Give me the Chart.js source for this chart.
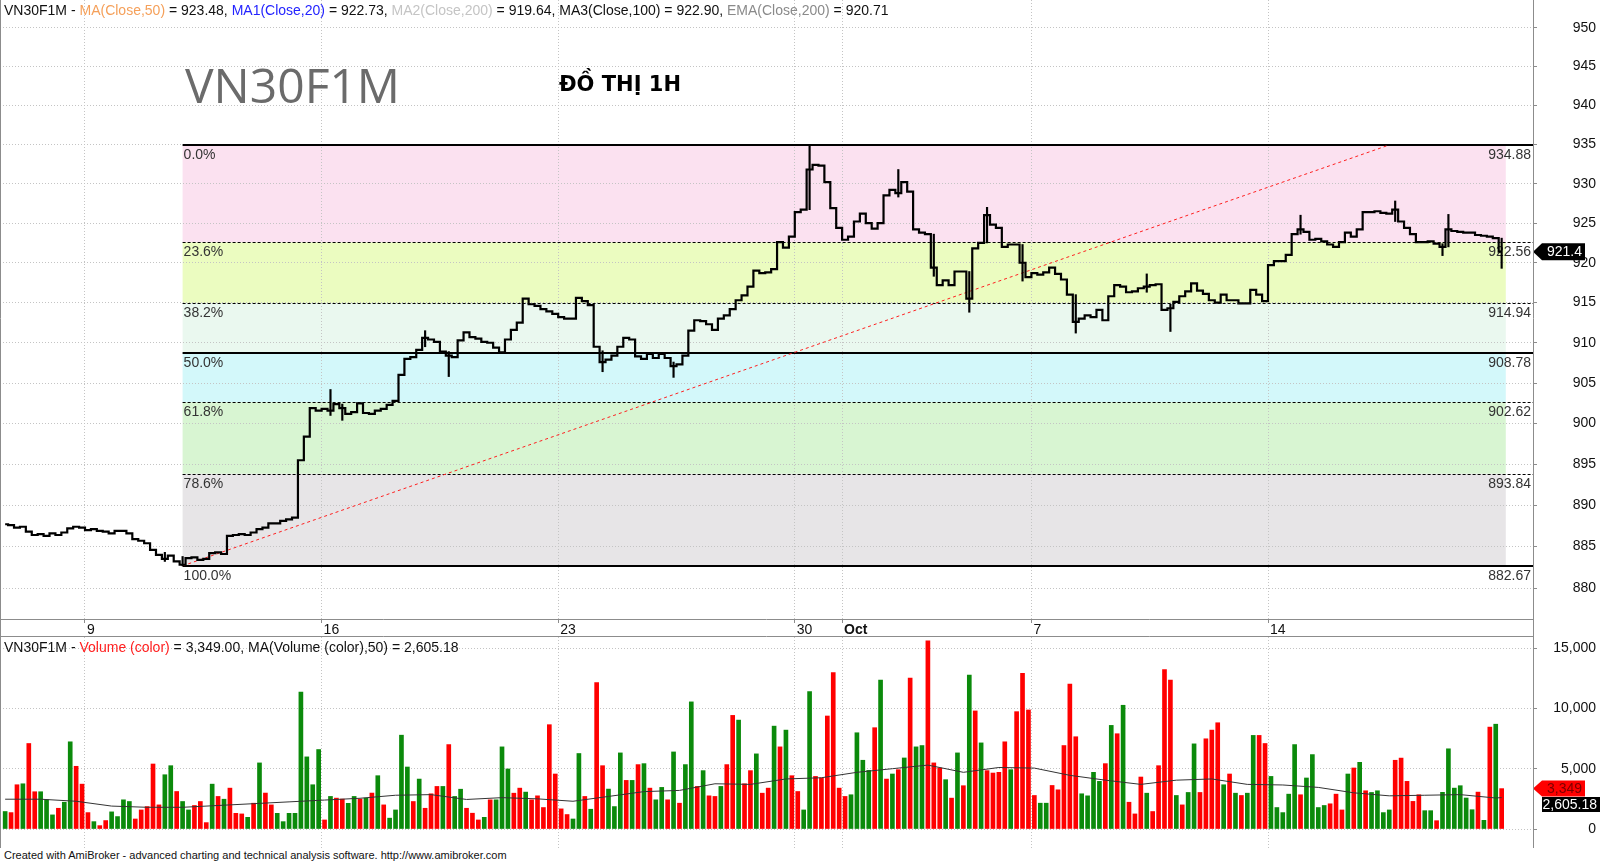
<!DOCTYPE html>
<html>
<head>
<meta charset="utf-8">
<script src="https://cdn.jsdelivr.net/npm/chart.js@4/dist/chart.umd.min.js"></script>
<style>
  body { margin: 0; background: #fff; width: 1600px; height: 863px; overflow: hidden; position: relative; font-family: "Liberation Sans", Arial, sans-serif; }
  canvas { position: absolute; left: 0; }
  #price { top: 0; }
  #vol { top: 637px; }
  .txt { position: absolute; white-space: nowrap; font-size: 14px; line-height: 16px; color: #111; }
  .big { position: absolute; left: 185px; top: 61px; font-family: "Open Sans", sans-serif; font-size: 48px; line-height: 48px; color: #6b6b6b; }
  .sub { position: absolute; left: 559px; top: 74px; font-family: "DejaVu Sans", sans-serif; font-weight: bold; font-size: 21px; line-height: 21px; color: #000; }
  .foot { position: absolute; left: 4px; top: 849px; font-size: 11px; line-height: 13px; color: #111; white-space: nowrap; }
</style>
</head>
<body>
<canvas id="price" width="1600" height="637"></canvas>
<canvas id="vol" width="1600" height="211"></canvas>

<div class="txt" style="left:4px;top:2px">VN30F1M - <span style="color:#f5a05a">MA(Close,50)</span> = 923.48, <span style="color:#2323ff">MA1(Close,20)</span> = 922.73, <span style="color:#c4c4c4">MA2(Close,200)</span> = 919.64, MA3(Close,100) = 922.90, <span style="color:#8a8a8a">EMA(Close,200)</span> = 920.71</div>
<div class="big">VN30F1M</div>
<div class="sub">ĐỒ THỊ 1H</div>
<div class="txt" style="left:4px;top:639px">VN30F1M - <span style="color:#ff2020">Volume (color)</span> = 3,349.00, MA(Volume (color),50) = 2,605.18</div>
<div class="foot">Created with AmiBroker - advanced charting and technical analysis software. http://www.amibroker.com</div>

<script>
// one slot per bar, x axis runs on bar index
const xMin = -0.87;
const xMax = 258.3;

const dayTickIdx = [13.5, 53.5, 93.5, 133.5, 141.5, 173.5, 213.5];
const dayTickLabels = ['9', '16', '23', '30', 'Oct', '7', '14'];

const priceTicks = [880, 885, 890, 895, 900, 905, 910, 915, 920, 925, 930, 935, 940, 945, 950];
const priceMin = 876.28;
const priceMax = 953.64;

const closes = [
  887.7, 887.6, 887.3, 887.4, 886.8, 886.4, 886.5, 886.3, 886.6, 886.4,
  886.7, 887.2, 887.4, 887.3, 887.0, 887.1, 886.9, 886.8, 886.6, 886.9,
  886.9, 886.6, 885.9, 885.7, 885.4, 884.6, 884.0, 883.5, 883.9, 883.2,
  882.8, 883.6, 883.7, 883.4, 883.5, 884.2, 884.3, 884.1, 886.3, 886.4,
  886.5, 886.4, 886.7, 887.1, 887.3, 887.8, 887.8, 888.1, 888.3, 888.5,
  895.5, 898.4, 901.9, 901.6, 901.8, 901.6, 902.4, 901.9, 901.2, 901.4,
  902.5, 901.3, 901.2, 901.6, 901.8, 902.3, 902.8, 906.0, 908.0, 908.2,
  909.1, 910.6, 910.4, 910.1, 908.9, 908.4, 908.2, 910.3, 911.3, 910.7,
  910.5, 910.1, 910.0, 909.4, 908.8, 910.4, 911.6, 912.5, 915.5, 914.8,
  914.6, 914.2, 913.9, 913.6, 913.2, 913.0, 913.0, 915.6, 915.2, 914.7,
  909.5, 907.6, 907.9, 908.4, 909.5, 910.6, 910.4, 908.3, 908.0, 908.6,
  908.1, 908.6, 908.1, 907.1, 907.3, 908.4, 911.5, 912.8, 912.7, 912.3,
  911.6, 913.0, 913.4, 914.2, 915.3, 915.9, 917.0, 919.0, 918.7, 918.8,
  919.2, 922.6, 921.9, 923.3, 926.4, 926.7, 931.8, 932.4, 932.3, 930.2,
  926.9, 924.4, 922.9, 923.3, 925.2, 926.2, 925.0, 924.3, 925.0, 928.5,
  929.2, 928.8, 930.2, 929.0, 924.2, 923.8, 923.6, 919.4, 917.2, 917.8,
  917.2, 918.9, 918.9, 915.5, 921.8, 922.5, 926.0, 924.8, 924.4, 922.0,
  922.3, 922.3, 920.0, 918.2, 918.7, 918.5, 918.8, 919.4, 918.6, 917.9,
  916.0, 912.6, 913.0, 913.4, 913.2, 914.1, 912.8, 915.8, 917.2, 917.0,
  916.3, 916.4, 916.8, 917.0, 917.2, 917.3, 914.1, 914.3, 915.1, 915.8,
  916.4, 917.4, 916.5, 916.1, 915.3, 915.0, 916.0, 915.3, 915.3, 914.9,
  914.9, 916.6, 916.0, 915.2, 919.7, 920.2, 920.2, 921.0, 923.6, 924.2,
  923.9, 922.9, 923.0, 922.7, 922.3, 922.0, 922.6, 923.8, 923.3, 924.2,
  926.4, 926.4, 926.5, 926.3, 926.2, 926.7, 925.2, 924.4, 923.6, 922.6,
  922.6, 922.7, 922.4, 922.0, 924.2, 924.0, 923.9, 923.8, 923.8, 923.5,
  923.4, 923.3, 923.1, 921.4
];

// [bar index, low, high] for the visible shadows
const wicks = [
  [27, 883.2, 884.3], [30, 882.67, 883.8], [55, 901.0, 904.2], [57, 900.4, 902.4],
  [71, 909.5, 911.5], [75, 905.8, 908.9], [101, 906.4, 909.0], [113, 905.7, 907.6],
  [136, 926.7, 934.88], [151, 928.3, 931.8], [157, 918.3, 923.6], [163, 913.8, 918.9],
  [166, 922.5, 927.0], [172, 917.7, 922.3], [181, 911.2, 916.0], [193, 916.3, 918.6],
  [197, 911.4, 914.8], [219, 923.6, 926.0], [235, 925.2, 927.8], [243, 920.9, 922.4],
  [244, 922.0, 926.1], [253, 919.3, 923.1]
];

const fibLevels = [934.88, 922.56, 914.94, 908.78, 902.62, 893.84, 882.67];
const fibLabels = ['0.0%', '23.6%', '38.2%', '50.0%', '61.8%', '78.6%', '100.0%'];
const fibColors = ['#fbe1f0', '#ebfcc0', '#eaf8ef', '#d3f8fa', '#d8f5d2', '#e7e5e7'];
const fibSolid = [true, false, false, true, false, false, true];
const fibFromIdx = 30;
const fibToIdx = 253.7;

const trendIdx = [30, 233.8];
const trendPrice = [882.67, 934.88];

const volTicks = [0, 5000, 10000, 15000];
const volMin = -1575;
const volMax = 15920;

const volumes = [
  1450, 1360, 3670, 3750, 7090, 3090, 3090, 2420, 1170, 1720,
  2220, 7230, 5200, 3720, 1360, 610, 280, 700, 1420, 1030,
  2420, 2280, 830, 1580, 1860, 5390, 2000, 4500, 5250, 3110,
  2280, 1580, 1950, 2280, 530, 3720, 2700, 2470, 3390, 1300,
  1250, 970, 2140, 5480, 2980, 2000, 1300, 610, 1300, 1300,
  11360, 5980, 3670, 6590, 750, 2700, 2560, 2480, 2130, 2700,
  2480, 2560, 2980, 4420, 2000, 900, 1580, 7780, 5140, 2280,
  4140, 1720, 2920, 3530, 3530, 7000, 2700, 3300, 1720, 1310,
  750, 970, 2420, 2420, 6810, 4980, 2970, 3390, 3060, 2420,
  2750, 1780, 8650, 4560, 1670, 1200, 830, 6260, 2700, 1640,
  12150, 5250, 3310, 1860, 6310, 4030, 4030, 5340, 5420, 3390,
  2420, 3450, 2420, 6390, 2140, 5340, 10540, 3530, 4840, 2750,
  2700, 3530, 5340, 9420, 9030, 3750, 4840, 6230, 2970, 3390,
  8530, 6810, 8200, 4420, 3110, 1580, 11400, 4360, 4230, 9370,
  12980, 3390, 2700, 2840, 7980, 5700, 4860, 8400, 12340, 4140,
  4560, 4920, 5890, 12510, 6810, 6920, 15600, 5480, 5060, 4090,
  2560, 6310, 3590, 12760, 9790, 7140, 4840, 4640, 4700, 7230,
  4920, 9730, 12900, 9870, 2780, 2140, 2140, 3610, 3250, 6920,
  12010, 7650, 2920, 2750, 4700, 3950, 5420, 8590, 7900, 10260,
  2220, 1250, 4310, 2970, 1450, 5250, 13210, 12340, 2780, 2000,
  3030, 7060, 3030, 7480, 8200, 8810, 3670, 4560, 2970, 2780,
  2970, 7760, 7760, 7090, 4360, 1780, 1360, 2890, 7000, 2840,
  4230, 6170, 1780, 1950, 2090, 2890, 1580, 4560, 5060, 5530,
  3170, 3030, 3170, 1360, 1580, 5700, 5880, 3950, 2290, 2840,
  1520, 1520, 690, 3040, 6650, 3390, 3590, 2570, 1600, 3060,
  720, 8450, 8690, 3349
];

// G = up bar (green), R = down bar (red)
const volDir =
  'GRRGRRGGGR' + 'GGRRRGRRGG' + 'GGRRRRRGGR' + 'GGRRRGRGRR' + 'RGRGRRGGGG' +
  'GGGGRGRRGG' + 'RGRGRGGGGR' + 'GRRRGRGGRR' + 'RGRGGGRRGR' + 'RRRRRRGGRG' +
  'RRGGGRGRGR' + 'GGRGRGGRGR' + 'RGRRGRRGRR' + 'GRGRRGGRRR' + 'RRRGGGGRGR' +
  'GRGRGGRRRG' + 'RGRGRGRRRR' + 'GRRRRGGRRR' + 'RRGGGGRGRG' + 'RRRGRRRRGR' +
  'GGRRRRGRGR' + 'GGRRGGGGGR' + 'GGGGRRRGRG' + 'RGGGGRRRRR' + 'GGRGGGGGGR' + 'GRGR';

const volMaIdx = [0, 6, 12, 18, 24, 30, 36, 42, 48, 54, 60, 66, 72, 78, 84, 90, 96, 102, 108, 114,
  120, 126, 132, 138, 144, 150, 156, 162, 168, 174, 180, 186, 192, 198, 204, 210, 216, 222, 228,
  234, 240, 246, 252, 253];
const volMa = [2470, 2470, 2300, 1900, 1800, 1800, 1950, 2100, 2250, 2400, 2550, 2800, 2850, 2450,
  2600, 2500, 2300, 2700, 3100, 3200, 3750, 3700, 4150, 4250, 4700, 5000, 5300, 4700, 5100, 5050,
  4450, 4050, 3700, 4050, 4150, 3700, 3650, 3450, 3000, 2750, 2800, 2850, 2570, 2605];

const lastClose = 921.4;
const lastVolume = 3349;
const lastVolMa = 2605.18;

Chart.defaults.font.family = '"Liberation Sans", Arial, sans-serif';
Chart.defaults.font.size = 14;
Chart.defaults.color = '#111';

const gridColor = '#c4c4c4';
const frameColor = '#8c8c8c';

const xAxis = (showLabels) => ({
  type: 'linear', min: xMin, max: xMax, bounds: 'data', offset: false,
  afterBuildTicks: s => { s.ticks = dayTickIdx.map(v => ({value: v})); },
  afterFit: s => { s.height = showLabels ? 18 : 0; s.paddingLeft = 0; s.paddingRight = 0; },
  ticks: {
    display: showLabels, autoSkip: false, maxRotation: 0, minRotation: 0, align: 'start',
    labelOffset: 2, padding: -1, color: '#111',
    font: c => ({size: 14, weight: dayTickLabels[c.index] === 'Oct' ? 'bold' : 'normal'}),
    callback: (v, i) => dayTickLabels[i]
  },
  grid: {color: gridColor, tickColor: frameColor, tickLength: 4, drawTicks: showLabels, offset: false},
  border: {display: false, dash: [1, 2]}
});

const framePlugin = (bottomLine) => ({
  id: 'frame',
  afterDraw(chart) {
    const {ctx, chartArea: a} = chart;
    ctx.save();
    ctx.strokeStyle = frameColor;
    ctx.lineWidth = 1;
    ctx.beginPath();
    ctx.moveTo(0.5, 0); ctx.lineTo(0.5, chart.height);
    ctx.moveTo(a.right + 0.5, 0); ctx.lineTo(a.right + 0.5, chart.height);
    if (bottomLine) {
      ctx.moveTo(0, a.bottom + 0.5); ctx.lineTo(a.right, a.bottom + 0.5);
      ctx.moveTo(0, chart.height - 0.5); ctx.lineTo(a.right, chart.height - 0.5);
    }
    ctx.stroke();
    ctx.restore();
  }
});

function drawTag(ctx, xTip, yc, xEnd, h, fill, color, text, arrow) {
  ctx.fillStyle = fill;
  ctx.beginPath();
  if (arrow) {
    ctx.moveTo(xTip, yc);
    ctx.lineTo(xTip + 9, yc - h / 2);
    ctx.lineTo(xEnd, yc - h / 2);
    ctx.lineTo(xEnd, yc + h / 2);
    ctx.lineTo(xTip + 9, yc + h / 2);
  } else {
    ctx.rect(xTip, yc - h / 2, xEnd - xTip, h);
  }
  ctx.closePath();
  ctx.fill();
  ctx.fillStyle = color;
  ctx.font = '14px "Liberation Sans", Arial, sans-serif';
  ctx.textAlign = 'right';
  ctx.textBaseline = 'middle';
  ctx.fillText(text, xEnd - 3, yc + 1);
}

const fibPlugin = {
  id: 'fib',
  beforeDraw(chart) {
    const {ctx, scales: {x, y}} = chart;
    const x0 = x.getPixelForValue(fibFromIdx);
    const x1 = x.getPixelForValue(fibToIdx);
    ctx.save();
    for (let k = 0; k < fibColors.length; k++) {
      const yTop = y.getPixelForValue(fibLevels[k]);
      const yBot = y.getPixelForValue(fibLevels[k + 1]);
      ctx.fillStyle = fibColors[k];
      ctx.fillRect(x0, yTop, x1 - x0, yBot - yTop);
    }
    ctx.restore();
  },
  beforeDatasetsDraw(chart) {
    const {ctx, chartArea: a, scales: {x, y}} = chart;
    const x0 = x.getPixelForValue(fibFromIdx);
    ctx.save();
    fibLevels.forEach((lv, k) => {
      const yy = Math.round(y.getPixelForValue(lv));
      ctx.strokeStyle = '#000';
      if (fibSolid[k]) {
        ctx.lineWidth = 2;
        ctx.setLineDash([]);
        ctx.beginPath(); ctx.moveTo(x0, yy); ctx.lineTo(a.right, yy); ctx.stroke();
      } else {
        ctx.lineWidth = 1;
        ctx.setLineDash([3, 2]);
        ctx.beginPath(); ctx.moveTo(x0, yy + 0.5); ctx.lineTo(a.right, yy + 0.5); ctx.stroke();
      }
      ctx.font = '14px "Liberation Sans", Arial, sans-serif';
      ctx.fillStyle = '#333';
      ctx.textBaseline = 'top';
      ctx.textAlign = 'left';
      ctx.fillText(fibLabels[k], x0 + 1, yy + 3);
      ctx.textAlign = 'right';
      ctx.fillText(lv.toFixed(2), a.right - 2, yy + 3);
    });
    ctx.restore();
  },
  afterDraw(chart) {
    const {ctx, chartArea: a, scales: {y}} = chart;
    ctx.save();
    drawTag(ctx, a.right, y.getPixelForValue(lastClose), 1585, 17, '#000', '#fff', String(lastClose), true);
    ctx.restore();
  }
};

const volTagPlugin = {
  id: 'volTag',
  afterDraw(chart) {
    const {ctx, chartArea: a, scales: {y}} = chart;
    ctx.save();
    const yv = y.getPixelForValue(lastVolume);
    drawTag(ctx, a.right, yv, 1585, 16, '#ff0000', '#7a0000', lastVolume.toLocaleString('en-US'), true);
    const ym = Math.max(y.getPixelForValue(lastVolMa), yv + 16);
    drawTag(ctx, 1542, ym, 1600, 15, '#000', '#fff', lastVolMa.toLocaleString('en-US', {minimumFractionDigits: 2}), false);
    ctx.restore();
  }
};

new Chart(document.getElementById('price'), {
  type: 'bar',
  data: {
    datasets: [
      {
        type: 'line', order: 1,
        data: closes.map((c, i) => ({x: i, y: c})),
        borderColor: '#000', borderWidth: 2.2, stepped: 'middle', pointRadius: 0
      },
      {
        type: 'bar', order: 2,
        data: wicks.map(w => ({x: w[0], y: [w[1], w[2]]})),
        backgroundColor: '#000', barThickness: 1.5
      },
      {
        type: 'line', order: 3,
        data: trendIdx.map((v, i) => ({x: v, y: trendPrice[i]})),
        borderColor: '#ff2020', borderWidth: 1, borderDash: [3, 3], pointRadius: 0
      }
    ]
  },
  options: {
    responsive: false, animation: false, devicePixelRatio: 1,
    layout: {padding: {right: 4}},
    plugins: {legend: {display: false}, tooltip: {enabled: false}},
    scales: {
      x: xAxis(true),
      y: {
        type: 'logarithmic', position: 'right', min: priceMin, max: priceMax,
        afterBuildTicks: s => { s.ticks = priceTicks.map(v => ({value: v})); },
        afterFit: s => { s.width = 63; s.paddingTop = 0; s.paddingBottom = 0; },
        ticks: {crossAlign: 'far', padding: 31, color: '#111', font: {size: 14}, callback: v => String(v)},
        grid: {color: gridColor, tickColor: frameColor, tickLength: 4},
        border: {display: false, dash: [1, 2]}
      }
    }
  },
  plugins: [fibPlugin, framePlugin(true)]
});

new Chart(document.getElementById('vol'), {
  type: 'bar',
  data: {
    datasets: [
      {
        type: 'line', order: 1,
        data: volMaIdx.map((v, i) => ({x: v, y: volMa[i]})),
        borderColor: '#333', borderWidth: 1, pointRadius: 0
      },
      {
        type: 'bar', order: 2,
        data: volumes.map((v, i) => ({x: i, y: v})),
        backgroundColor: volumes.map((v, i) => volDir[i] === 'G' ? '#0b8a0b' : '#ff0000'),
        barThickness: 4
      }
    ]
  },
  options: {
    responsive: false, animation: false, devicePixelRatio: 1,
    layout: {padding: {right: 4}},
    plugins: {legend: {display: false}, tooltip: {enabled: false}},
    scales: {
      x: xAxis(false),
      y: {
        type: 'linear', position: 'right', min: volMin, max: volMax, bounds: 'data',
        afterBuildTicks: s => { s.ticks = volTicks.map(v => ({value: v})); },
        afterFit: s => { s.width = 63; s.paddingTop = 0; s.paddingBottom = 0; },
        ticks: {crossAlign: 'far', padding: 12, color: '#111', font: {size: 14}, callback: v => v.toLocaleString('en-US')},
        grid: {color: gridColor, tickColor: frameColor, tickLength: 4},
        border: {display: false, dash: [1, 2]}
      }
    }
  },
  plugins: [volTagPlugin, framePlugin(false)]
});
</script>
</body>
</html>
